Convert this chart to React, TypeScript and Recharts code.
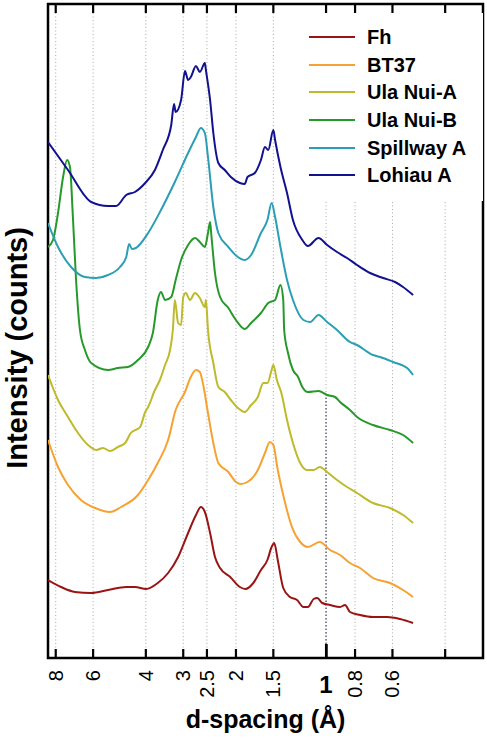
import React from 'react';
import { LineChart, Line, XAxis, YAxis, ReferenceLine, ReferenceArea, Legend, Customized } from 'recharts';

// d-spacing (Å) vs intensity (arbitrary counts, offset stacks)
const fhPts: [number, number][] = [
  [8.49, 78], [7.68, 71], [6.9, 66], [6.09, 65], [5.35, 68], [4.65, 71], [4.35, 71], [3.99, 69],
  [3.65, 75], [3.37, 85], [3.12, 101], [2.89, 125], [2.72, 143], [2.62, 151], [2.54, 146], [2.44, 125],
  [2.35, 101], [2.26, 90], [2.09, 81], [1.94, 71], [1.86, 69], [1.75, 75], [1.65, 88], [1.57, 98],
  [1.52, 111], [1.49, 115], [1.45, 98], [1.39, 70], [1.32, 61], [1.25, 58], [1.19, 51], [1.15, 51],
  [1.1, 59], [1.07, 60], [1.03, 55], [0.97, 53], [0.898, 51], [0.864, 53], [0.832, 46], [0.77, 43],
  [0.697, 41], [0.625, 41], [0.566, 39], [0.512, 35],
];
const bt37Pts: [number, number][] = [
  [8.49, 218], [7.86, 191], [7.28, 173], [6.59, 158], [5.91, 150], [5.27, 146], [4.84, 151], [4.25, 163],
  [3.93, 178], [3.65, 195], [3.37, 218], [3.18, 248], [2.96, 266], [2.83, 281], [2.72, 288], [2.64, 286],
  [2.58, 275], [2.48, 245], [2.38, 215], [2.29, 195], [2.12, 186], [2.0, 176], [1.93, 174], [1.83, 176],
  [1.69, 188], [1.6, 205], [1.54, 216], [1.5, 213], [1.45, 188], [1.37, 155], [1.3, 131], [1.22, 116],
  [1.15, 111], [1.05, 116], [0.97, 108], [0.898, 103], [0.832, 95], [0.77, 90], [0.697, 80], [0.611, 75],
  [0.553, 68], [0.512, 61],
];
const ulaAPts: [number, number][] = [
  [8.49, 283], [7.86, 258], [7.28, 241], [6.74, 225], [6.24, 213], [5.86, 208], [5.56, 210], [5.27, 207],
  [4.96, 211], [4.69, 215], [4.49, 225], [4.18, 231], [4.02, 246], [3.93, 251], [3.73, 268], [3.59, 278],
  [3.45, 293], [3.32, 308], [3.25, 328], [3.2, 358], [3.12, 335], [3.05, 333], [3.0, 361], [2.94, 365],
  [2.85, 358], [2.74, 365], [2.64, 360], [2.54, 351], [2.52, 358], [2.48, 328], [2.38, 295], [2.29, 271],
  [2.18, 266], [2.08, 258], [1.97, 250], [1.87, 246], [1.78, 253], [1.69, 261], [1.62, 275], [1.57, 275],
  [1.52, 288], [1.5, 293], [1.46, 278], [1.41, 265], [1.35, 238], [1.29, 215], [1.22, 195], [1.16, 188],
  [1.1, 188], [1.05, 191], [0.992, 186], [0.919, 178], [0.851, 171], [0.788, 165], [0.697, 155], [0.611, 150],
  [0.553, 143], [0.512, 135],
];
const ulaBPts: [number, number][] = [
  [8.49, 411], [8.17, 418], [7.86, 445], [7.56, 481], [7.33, 498], [7.17, 491], [7.01, 441], [6.85, 381],
  [6.64, 328], [6.39, 308], [6.09, 295], [5.35, 288], [4.96, 290], [4.59, 291], [4.25, 298], [3.93, 311],
  [3.79, 325], [3.65, 358], [3.56, 366], [3.45, 358], [3.29, 361], [3.18, 378], [3.05, 398], [2.89, 413],
  [2.74, 420], [2.64, 416], [2.54, 411], [2.48, 425], [2.44, 436], [2.42, 425], [2.35, 385], [2.26, 361],
  [2.12, 350], [2.0, 338], [1.87, 329], [1.78, 335], [1.65, 345], [1.56, 355], [1.48, 358], [1.42, 373],
  [1.39, 358], [1.38, 328], [1.34, 305], [1.29, 288], [1.24, 281], [1.2, 271], [1.15, 266], [1.06, 267],
  [0.992, 263], [0.933, 261], [0.898, 256], [0.832, 248], [0.788, 241], [0.697, 233], [0.611, 228], [0.553, 223],
  [0.512, 215],
];
const spillPts: [number, number][] = [
  [8.49, 435], [7.86, 411], [7.11, 391], [6.39, 381], [5.86, 380], [5.35, 383], [4.88, 391], [4.65, 401],
  [4.55, 414], [4.45, 409], [4.32, 410], [3.93, 425], [3.56, 448], [3.2, 476], [2.89, 505], [2.72, 521],
  [2.62, 530], [2.54, 525], [2.48, 501], [2.38, 451], [2.29, 425], [2.12, 411], [1.97, 401], [1.87, 398],
  [1.78, 403], [1.65, 425], [1.57, 438], [1.52, 455], [1.48, 441], [1.42, 411], [1.35, 378], [1.29, 358],
  [1.19, 338], [1.13, 336], [1.06, 343], [0.992, 336], [0.919, 328], [0.832, 316], [0.788, 313], [0.697, 303],
  [0.66, 301], [0.597, 296], [0.536, 290], [0.512, 283],
];
const lohiauPts: [number, number][] = [
  [8.49, 516], [7.28, 488], [6.09, 456], [5.35, 452], [5.03, 452], [4.65, 463], [4.35, 466], [4.02, 475],
  [3.73, 488], [3.51, 508], [3.29, 533], [3.22, 554], [3.18, 546], [3.05, 558], [2.96, 587], [2.89, 578],
  [2.83, 581], [2.72, 592], [2.64, 586], [2.54, 595], [2.52, 588], [2.44, 558], [2.38, 525], [2.29, 495],
  [2.18, 488], [2.08, 481], [1.94, 475], [1.87, 474], [1.83, 481], [1.73, 485], [1.65, 498], [1.6, 511],
  [1.56, 508], [1.5, 528], [1.48, 518], [1.42, 491], [1.35, 465], [1.29, 438], [1.2, 418], [1.15, 412],
  [1.06, 420], [0.992, 413], [0.919, 406], [0.851, 400], [0.788, 393], [0.713, 385], [0.645, 380], [0.588, 376],
  [0.553, 371], [0.512, 363],
];

const seriesNames = ['Fh', 'BT37', 'Ula Nui-A', 'Ula Nui-B', 'Spillway A', 'Lohiau A'];
const seriesColors = ['#991515', '#F6A232', '#BDBA2C', '#27992B', '#2A9FB3', '#12128F'];
const seriesPts = [fhPts, bt37Pts, ulaAPts, ulaBPts, spillPts, lohiauPts];

const tickValues = [8, 6, 4, 3, 2.5, 2, 1.5, 1, 0.8, 0.6, 0.4];
const tickLabels = ['8', '6', '4', '3', '2.5', '2', '1.5', '1', '0.8', '0.6', ''];

const xDomain: [number, number] = [0.299, 8.49];
const yDomain: [number, number] = [0, 654];
const PLOT_H = 654;

const FONT = '"Liberation Sans", Arial, Helvetica, sans-serif';

const BottomTick = (props: any) => {
  const { x, y, payload } = props;
  const idx = tickValues.indexOf(payload.value);
  const label = tickLabels[idx] ?? '';
  const isOne = payload.value === 1;
  const top = y - PLOT_H;
  return (
    <g>
      <rect x={x - 1.1} y={y - (isOne ? 14 : 9)} width={isOne ? 2.8 : 2.2} height={isOne ? 14 : 9} fill="#000" />
      <rect x={x - 1.1} y={top} width={2.2} height={9} fill="#000" />
      {isOne ? (
        <text x={x} y={y + 35} textAnchor="middle" fontWeight="bold" fontSize={24} fontFamily={FONT} fill="#000">
          {label}
        </text>
      ) : (
        <text
          transform={`translate(${x},${y + 12}) rotate(-90)`}
          textAnchor="end"
          dy="0.35em"
          fontSize={20}
          fontFamily={FONT}
          fill="#000"
        >
          {label}
        </text>
      )}
    </g>
  );
};

const LegendContent = () => (
  <div style={{ background: '#fff', paddingTop: 10, paddingLeft: 9, height: 178 }}>
    {seriesNames.map((name, i) => (
      <div key={name} style={{ display: 'flex', alignItems: 'center', height: 27.7 }}>
        <svg width={46} height={4} style={{ display: 'block' }}>
          <line x1={0} y1={2} x2={46} y2={2} stroke={seriesColors[i]} strokeWidth={2} />
        </svg>
        <span style={{ marginLeft: 12, fontFamily: FONT, fontWeight: 'bold', fontSize: 20, color: '#000', lineHeight: '20px' }}>
          {name}
        </span>
      </div>
    ))}
  </div>
);

const Titles = () => (
  <g>
    <text x={265.5} y={728} textAnchor="middle" fontWeight="bold" fontSize={25} fontFamily={FONT} fill="#000">
      d-spacing (Å)
    </text>
    <text
      transform="translate(27,348) rotate(-90)"
      textAnchor="middle"
      fontWeight="bold"
      fontSize={29}
      fontFamily={FONT}
      fill="#000"
    >
      Intensity (counts)
    </text>
  </g>
);

export default function App() {
  const seriesData = seriesPts.map((pts) => pts.map(([d, v]) => ({ d, v })));
  return (
    <div style={{ position: 'absolute', left: 0, top: 0, width: 487, height: 741, background: '#fff' }}>
      <LineChart width={487} height={741} margin={{ top: 4, right: 4, bottom: 0, left: 48 }}>
        <XAxis
          xAxisId={0}
          dataKey="d"
          type="number"
          scale="log"
          domain={xDomain}
          reversed
          allowDataOverflow
          ticks={tickValues}
          interval={0}
          height={83}
          tickSize={0}
          tickMargin={0}
          axisLine={false}
          tickLine={false}
          tick={<BottomTick />}
        />
        <YAxis hide type="number" domain={yDomain} allowDataOverflow />
        {tickValues.map((t) => (
          <ReferenceLine
            key={`g${t}`}
            x={t}
            stroke="#a8a8a8"
            strokeWidth={1}
            strokeDasharray="1 2.5"
            ifOverflow="visible"
          />
        ))}
        <ReferenceLine
          segment={[{ x: 1, y: yDomain[0] }, { x: 1, y: 262 }]}
          stroke="#6f6f8a"
          strokeWidth={1.6}
          strokeDasharray="1.5 2"
          ifOverflow="visible"
        />
        {seriesNames.map((name, i) => (
          <Line
            key={name}
            data={seriesData[i]}
            dataKey="v"
            name={name}
            type="monotone"
            stroke={seriesColors[i]}
            strokeWidth={2}
            dot={false}
            activeDot={false}
            isAnimationActive={false}
          />
        ))}
        <ReferenceArea
          x1={xDomain[1]}
          x2={xDomain[0]}
          y1={yDomain[0]}
          y2={yDomain[1]}
          fill="none"
          stroke="#000"
          strokeWidth={2.5}
          ifOverflow="visible"
        />
        <Customized component={Titles} />
        <Legend
          layout="vertical"
          align="center"
          verticalAlign="middle"
          content={<LegendContent />}
          wrapperStyle={{ left: 300, top: 13, width: 183, height: 188, margin: 0 }}
        />
      </LineChart>
    </div>
  );
}
